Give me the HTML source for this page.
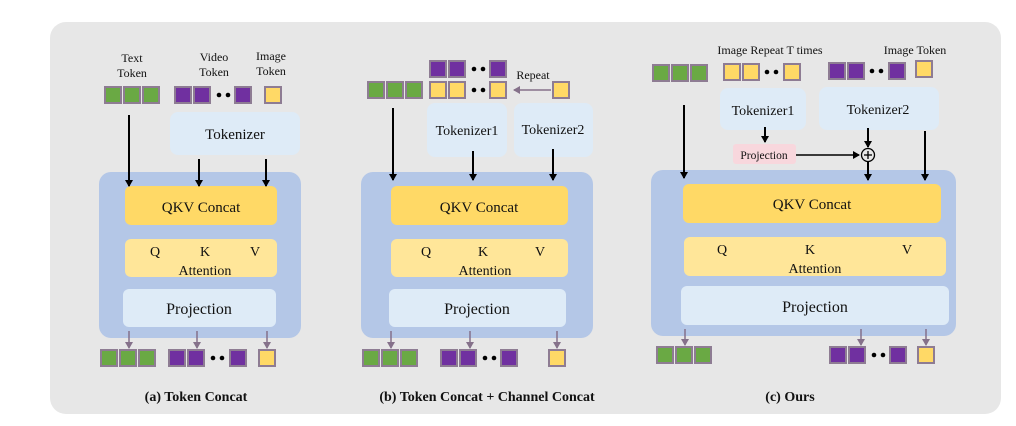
<!DOCTYPE html>
<html><head><meta charset="utf-8"><style>
html,body{margin:0;padding:0;background:#fff;}
svg{display:block;}
text{font-family:"Liberation Serif",serif;fill:#111;}
</style></head><body>
<svg width="1016" height="426" viewBox="0 0 1016 426" xmlns="http://www.w3.org/2000/svg">
<defs>
<marker id="ab" markerWidth="8" markerHeight="8" refX="6" refY="4" orient="auto" markerUnits="userSpaceOnUse"><path d="M0,0 L7,4 L0,8 z" fill="#000"/></marker>
<marker id="ag" markerWidth="8" markerHeight="8" refX="6" refY="4" orient="auto" markerUnits="userSpaceOnUse"><path d="M0,0 L7,4 L0,8 z" fill="#85718a"/></marker>
</defs>
<rect x="50" y="22" width="951" height="392" rx="16" fill="#e7e7e7"/>
<g stroke="#8e7c93" stroke-width="2">
<!-- (a) top -->
<rect x="105" y="87" width="16" height="16" fill="#6aa944"/><rect x="124" y="87" width="16" height="16" fill="#6aa944"/><rect x="143" y="87" width="16" height="16" fill="#6aa944"/>
<rect x="175" y="87" width="16" height="16" fill="#7030a0"/><rect x="194" y="87" width="16" height="16" fill="#7030a0"/><rect x="235" y="87" width="16" height="16" fill="#7030a0"/>
<rect x="265" y="87" width="16" height="16" fill="#ffd966"/>
<!-- (a) bottom -->
<rect x="101" y="350" width="16" height="16" fill="#6aa944"/><rect x="120" y="350" width="16" height="16" fill="#6aa944"/><rect x="139" y="350" width="16" height="16" fill="#6aa944"/>
<rect x="169" y="350" width="16" height="16" fill="#7030a0"/><rect x="188" y="350" width="16" height="16" fill="#7030a0"/><rect x="230" y="350" width="16" height="16" fill="#7030a0"/>
<rect x="259" y="350" width="16" height="16" fill="#ffd966"/>
<!-- (b) top -->
<rect x="368" y="82" width="16" height="16" fill="#6aa944"/><rect x="387" y="82" width="16" height="16" fill="#6aa944"/><rect x="406" y="82" width="16" height="16" fill="#6aa944"/>
<rect x="430" y="61" width="16" height="16" fill="#7030a0"/><rect x="449" y="61" width="16" height="16" fill="#7030a0"/><rect x="490" y="61" width="16" height="16" fill="#7030a0"/>
<rect x="430" y="82" width="16" height="16" fill="#ffd966"/><rect x="449" y="82" width="16" height="16" fill="#ffd966"/><rect x="490" y="82" width="16" height="16" fill="#ffd966"/>
<rect x="553" y="82" width="16" height="16" fill="#ffd966"/>
<!-- (b) bottom -->
<rect x="363" y="350" width="16" height="16" fill="#6aa944"/><rect x="382" y="350" width="16" height="16" fill="#6aa944"/><rect x="401" y="350" width="16" height="16" fill="#6aa944"/>
<rect x="441" y="350" width="16" height="16" fill="#7030a0"/><rect x="460" y="350" width="16" height="16" fill="#7030a0"/><rect x="501" y="350" width="16" height="16" fill="#7030a0"/>
<rect x="549" y="350" width="16" height="16" fill="#ffd966"/>
<!-- (c) top -->
<rect x="653" y="65" width="16" height="16" fill="#6aa944"/><rect x="672" y="65" width="16" height="16" fill="#6aa944"/><rect x="691" y="65" width="16" height="16" fill="#6aa944"/>
<rect x="724" y="64" width="16" height="16" fill="#ffd966"/><rect x="743" y="64" width="16" height="16" fill="#ffd966"/><rect x="784" y="64" width="16" height="16" fill="#ffd966"/>
<rect x="829" y="63" width="16" height="16" fill="#7030a0"/><rect x="848" y="63" width="16" height="16" fill="#7030a0"/><rect x="889" y="63" width="16" height="16" fill="#7030a0"/>
<rect x="916" y="61" width="16" height="16" fill="#ffd966"/>
<!-- (c) bottom -->
<rect x="657" y="347" width="16" height="16" fill="#6aa944"/><rect x="676" y="347" width="16" height="16" fill="#6aa944"/><rect x="695" y="347" width="16" height="16" fill="#6aa944"/>
<rect x="830" y="347" width="16" height="16" fill="#7030a0"/><rect x="849" y="347" width="16" height="16" fill="#7030a0"/><rect x="890" y="347" width="16" height="16" fill="#7030a0"/>
<rect x="918" y="347" width="16" height="16" fill="#ffd966"/>
</g>
<!-- dots -->
<g fill="#000">
<circle cx="219" cy="95" r="2.3"/><circle cx="228" cy="95" r="2.3"/>
<circle cx="213" cy="358" r="2.3"/><circle cx="222" cy="358" r="2.3"/>
<circle cx="474" cy="69" r="2.3"/><circle cx="483" cy="69" r="2.3"/>
<circle cx="474" cy="90" r="2.3"/><circle cx="483" cy="90" r="2.3"/>
<circle cx="485" cy="358" r="2.3"/><circle cx="494" cy="358" r="2.3"/>
<circle cx="767" cy="72" r="2.3"/><circle cx="776" cy="72" r="2.3"/>
<circle cx="872" cy="71" r="2.3"/><circle cx="881" cy="71" r="2.3"/>
<circle cx="874" cy="355" r="2.3"/><circle cx="883" cy="355" r="2.3"/>
</g>

<!-- (a) -->
<rect x="170" y="112" width="130" height="43" rx="8" fill="#deebf7"/>
<text x="235" y="139" font-size="15" text-anchor="middle">Tokenizer</text>
<rect x="99" y="172" width="202" height="166" rx="12" fill="#b4c7e7"/>
<rect x="125" y="186" width="152" height="39" rx="6" fill="#ffd966"/>
<text x="201" y="212" font-size="15" text-anchor="middle">QKV Concat</text>
<rect x="125" y="239" width="152" height="38" rx="6" fill="#ffe699"/>
<text x="155" y="256" font-size="14" text-anchor="middle">Q</text>
<text x="205" y="256" font-size="14" text-anchor="middle">K</text>
<text x="255" y="256" font-size="14" text-anchor="middle">V</text>
<text x="205" y="275" font-size="14" text-anchor="middle">Attention</text>
<rect x="123" y="289" width="153" height="38" rx="6" fill="#deebf7"/>
<text x="199" y="314" font-size="16" text-anchor="middle">Projection</text>
<text x="132" y="62" font-size="12" text-anchor="middle">Text</text>
<text x="132" y="77" font-size="12" text-anchor="middle">Token</text>
<text x="214" y="61" font-size="12" text-anchor="middle">Video</text>
<text x="214" y="76" font-size="12" text-anchor="middle">Token</text>
<text x="271" y="60" font-size="12" text-anchor="middle">Image</text>
<text x="271" y="75" font-size="12" text-anchor="middle">Token</text>
<g stroke="#000" stroke-width="2" marker-end="url(#ab)">
<line x1="129" y1="115" x2="129" y2="186"/>
<line x1="199" y1="159" x2="199" y2="186"/>
<line x1="266" y1="159" x2="266" y2="186"/>
</g>
<g stroke="#85718a" stroke-width="1.5" marker-end="url(#ag)">
<line x1="129" y1="331" x2="129" y2="348"/>
<line x1="197" y1="331" x2="197" y2="348"/>
<line x1="267" y1="331" x2="267" y2="348"/>
</g>
<text x="196" y="401" font-size="14" font-weight="bold" text-anchor="middle">(a) Token Concat</text>

<!-- (b) -->
<rect x="427" y="103" width="80" height="54" rx="8" fill="#deebf7"/>
<text x="467" y="135" font-size="14" text-anchor="middle">Tokenizer1</text>
<rect x="514" y="103" width="79" height="54" rx="8" fill="#deebf7"/>
<text x="553" y="134" font-size="14" text-anchor="middle">Tokenizer2</text>
<rect x="361" y="172" width="232" height="166" rx="12" fill="#b4c7e7"/>
<rect x="391" y="186" width="177" height="39" rx="6" fill="#ffd966"/>
<text x="479" y="212" font-size="15" text-anchor="middle">QKV Concat</text>
<rect x="391" y="239" width="177" height="38" rx="6" fill="#ffe699"/>
<text x="426" y="256" font-size="14" text-anchor="middle">Q</text>
<text x="483" y="256" font-size="14" text-anchor="middle">K</text>
<text x="540" y="256" font-size="14" text-anchor="middle">V</text>
<text x="485" y="275" font-size="14" text-anchor="middle">Attention</text>
<rect x="389" y="289" width="177" height="38" rx="6" fill="#deebf7"/>
<text x="477" y="314" font-size="16" text-anchor="middle">Projection</text>
<text x="533" y="79" font-size="12" text-anchor="middle">Repeat</text>
<line x1="551" y1="90" x2="514" y2="90" stroke="#85718a" stroke-width="1.5" marker-end="url(#ag)"/>
<g stroke="#000" stroke-width="2" marker-end="url(#ab)">
<line x1="393" y1="108" x2="393" y2="180"/>
<line x1="473" y1="151" x2="473" y2="180"/>
<line x1="553" y1="149" x2="553" y2="180"/>
</g>
<g stroke="#85718a" stroke-width="1.5" marker-end="url(#ag)">
<line x1="391" y1="331" x2="391" y2="348"/>
<line x1="470" y1="331" x2="470" y2="348"/>
<line x1="557" y1="331" x2="557" y2="348"/>
</g>
<text x="487" y="401" font-size="14" font-weight="bold" text-anchor="middle">(b) Token Concat + Channel Concat</text>

<!-- (c) -->
<text x="770" y="54" font-size="12" text-anchor="middle">Image Repeat T times</text>
<text x="915" y="54" font-size="12" text-anchor="middle">Image Token</text>
<rect x="720" y="88" width="86" height="42" rx="8" fill="#deebf7"/>
<text x="763" y="115" font-size="14" text-anchor="middle">Tokenizer1</text>
<rect x="819" y="87" width="120" height="43" rx="8" fill="#deebf7"/>
<text x="878" y="114" font-size="14" text-anchor="middle">Tokenizer2</text>
<rect x="733" y="144" width="63" height="20" rx="3" fill="#f8d7dd"/>
<text x="764" y="159" font-size="11.5" text-anchor="middle">Projection</text>
<circle cx="868" cy="155" r="6.5" fill="none" stroke="#000" stroke-width="1.3"/>
<line x1="864" y1="155" x2="872" y2="155" stroke="#000" stroke-width="1.3"/>
<line x1="868" y1="151" x2="868" y2="159" stroke="#000" stroke-width="1.3"/>
<rect x="651" y="170" width="305" height="166" rx="12" fill="#b4c7e7"/>
<rect x="683" y="184" width="258" height="39" rx="6" fill="#ffd966"/>
<text x="812" y="209" font-size="15" text-anchor="middle">QKV Concat</text>
<rect x="684" y="237" width="262" height="39" rx="6" fill="#ffe699"/>
<text x="722" y="254" font-size="14" text-anchor="middle">Q</text>
<text x="810" y="254" font-size="14" text-anchor="middle">K</text>
<text x="907" y="254" font-size="14" text-anchor="middle">V</text>
<text x="815" y="273" font-size="14" text-anchor="middle">Attention</text>
<rect x="681" y="286" width="268" height="39" rx="6" fill="#deebf7"/>
<text x="815" y="312" font-size="16" text-anchor="middle">Projection</text>
<g stroke="#000" stroke-width="2" marker-end="url(#ab)">
<line x1="684" y1="105" x2="684" y2="178"/>
<line x1="765" y1="127" x2="765" y2="142"/>
<line x1="868" y1="128" x2="868" y2="147"/>
<line x1="868" y1="162" x2="868" y2="180"/>
<line x1="925" y1="131" x2="925" y2="180"/>
</g>
<line x1="796" y1="155" x2="859" y2="155" stroke="#000" stroke-width="1.5" marker-end="url(#ab)"/>
<g stroke="#85718a" stroke-width="1.5" marker-end="url(#ag)">
<line x1="685" y1="329" x2="685" y2="345"/>
<line x1="861" y1="329" x2="861" y2="345"/>
<line x1="926" y1="329" x2="926" y2="345"/>
</g>
<text x="790" y="401" font-size="14" font-weight="bold" text-anchor="middle">(c) Ours</text>
</svg>
</body></html>
